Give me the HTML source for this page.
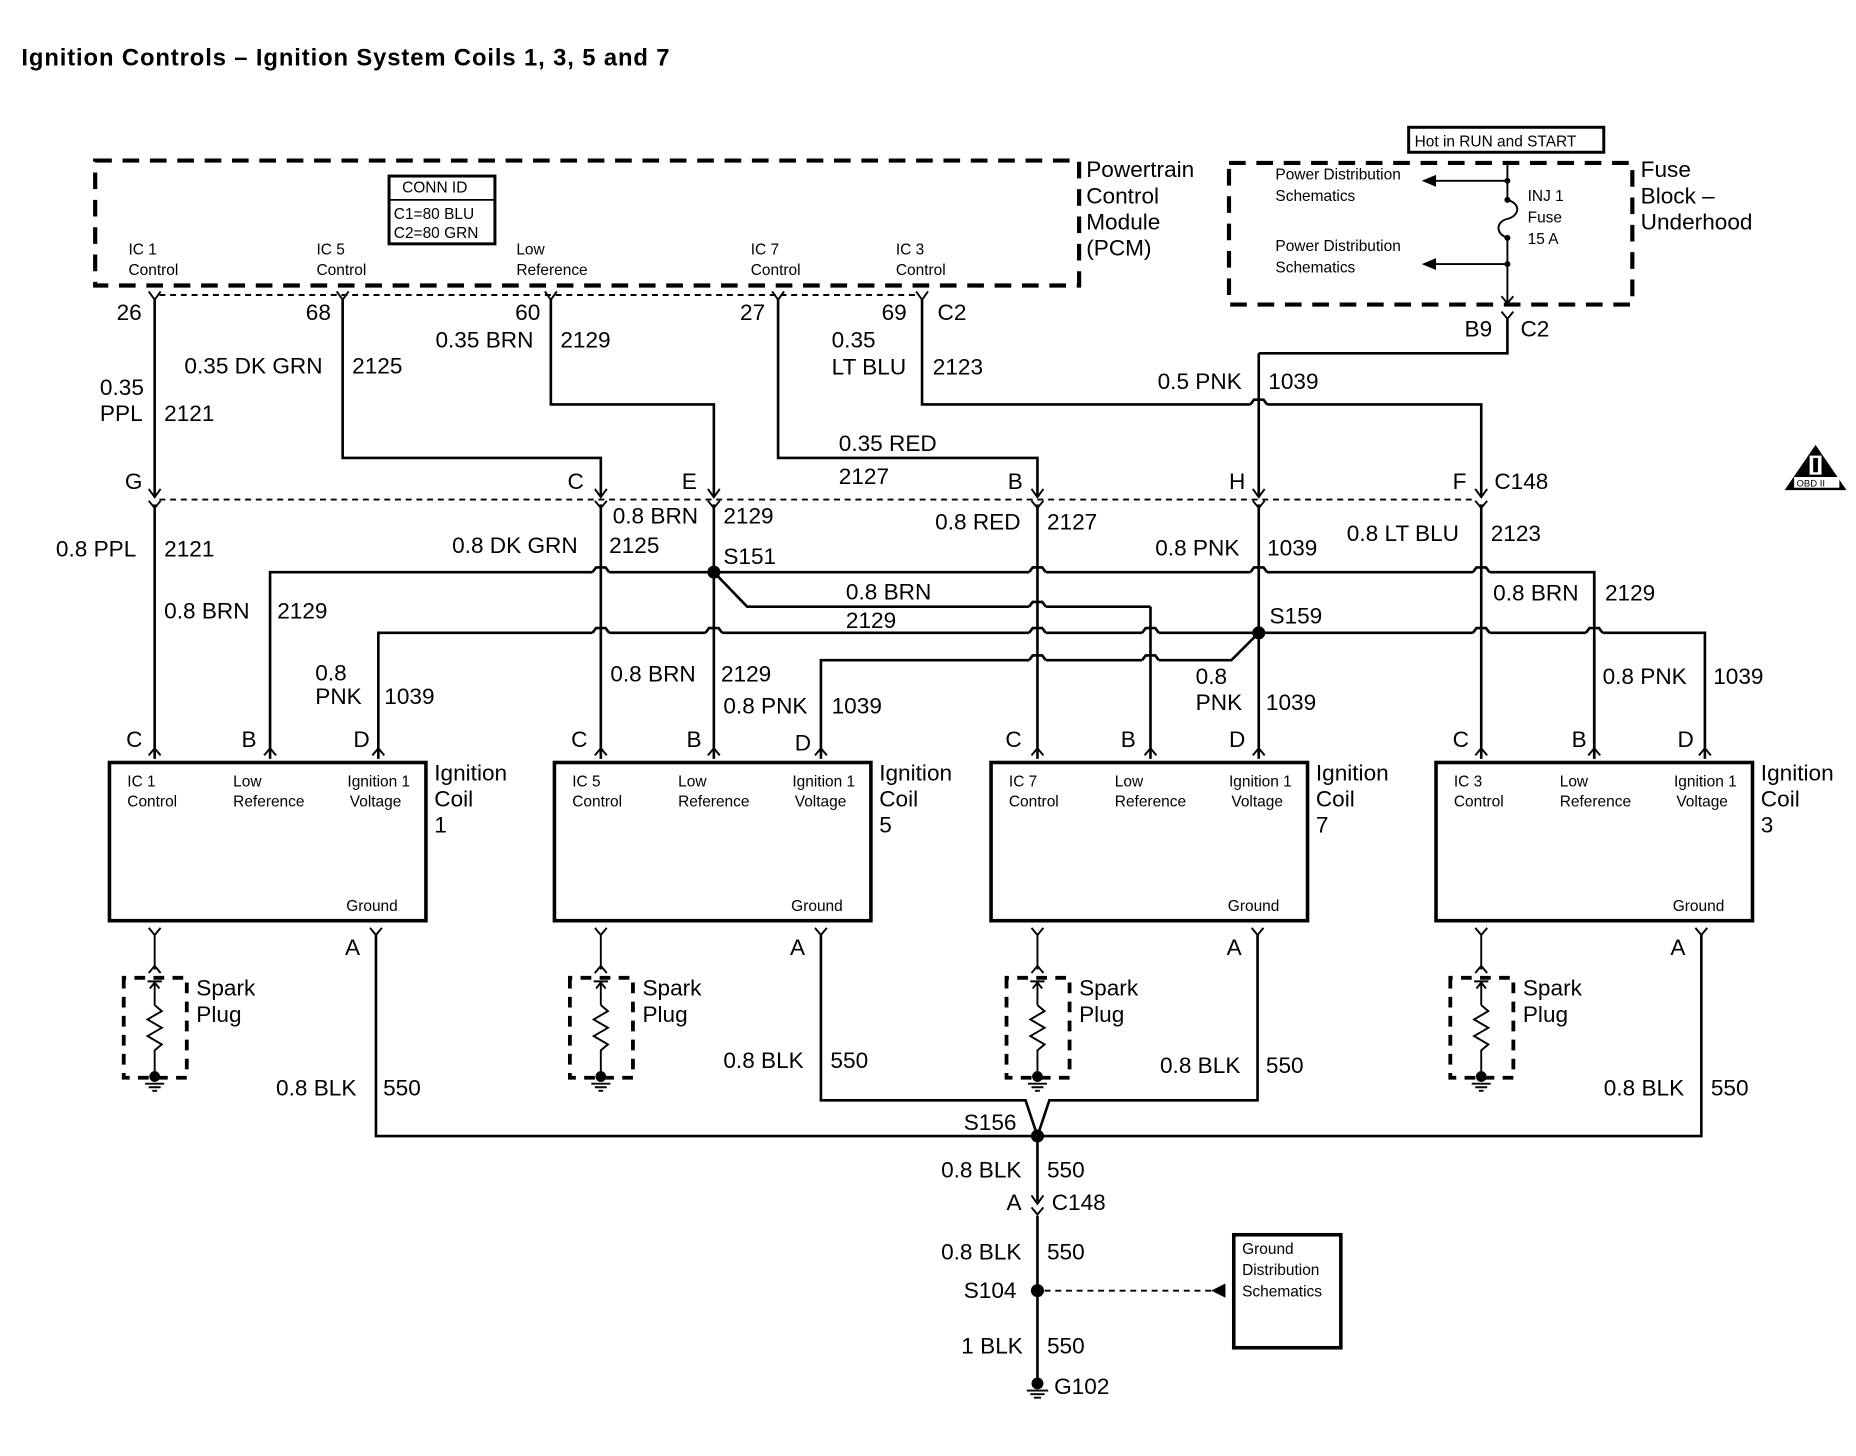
<!DOCTYPE html>
<html><head><meta charset="utf-8">
<style>
html,body{margin:0;padding:0;background:#fff;}
svg{display:block;}
.w{stroke:#000;stroke-width:2.2;fill:none;stroke-linejoin:miter;}
.t{stroke:#000;stroke-width:1.6;fill:none;}
.d{stroke:#000;stroke-width:1.6;fill:none;stroke-dasharray:5 4;}
.bx{stroke:#000;stroke-width:3.5;fill:none;stroke-dasharray:14 9;}
text{font-family:"Liberation Sans",Arial,sans-serif;fill:#000;}
.L{font-size:19px;}
.S{font-size:13px;}
</style></head><body>
<svg width="1856" height="1456" viewBox="0 0 1560 1224" preserveAspectRatio="none" xmlns="http://www.w3.org/2000/svg">
<rect width="1560" height="1224" fill="#fff"/>
<text x="18" y="55" style="font-size:20px;font-weight:bold;letter-spacing:0.75px">Ignition Controls – Ignition System Coils 1, 3, 5 and 7</text>

<!-- PCM -->
<rect x="80" y="135" width="827" height="105" class="bx"/>
<text class="L" x="913" y="149">Powertrain</text>
<text class="L" x="913" y="171">Control</text>
<text class="L" x="913" y="193">Module</text>
<text class="L" x="913" y="215">(PCM)</text>
<rect x="327" y="148" width="89" height="57" fill="none" stroke="#000" stroke-width="2.5"/>
<line x1="327" y1="168" x2="416" y2="168" stroke="#000" stroke-width="1.5"/>
<text class="S" x="338" y="162">CONN ID</text>
<text class="S" x="331" y="184">C1=80 BLU</text>
<text class="S" x="331" y="200">C2=80 GRN</text>
<text class="S" x="108" y="214">IC 1</text><text class="S" x="108" y="231">Control</text>
<text class="S" x="266" y="214">IC 5</text><text class="S" x="266" y="231">Control</text>
<text class="S" x="434" y="214">Low</text><text class="S" x="434" y="231">Reference</text>
<text class="S" x="631" y="214">IC 7</text><text class="S" x="631" y="231">Control</text>
<text class="S" x="753" y="214">IC 3</text><text class="S" x="753" y="231">Control</text>

<!-- Fuse block -->
<rect x="1184" y="107" width="164" height="21" fill="none" stroke="#000" stroke-width="2.5"/>
<text class="S" x="1189" y="123">Hot in RUN and START</text>
<rect x="1033" y="137" width="339" height="119" class="bx"/>
<text class="L" x="1379" y="149">Fuse</text>
<text class="L" x="1379" y="171">Block –</text>
<text class="L" x="1379" y="193">Underhood</text>
<text class="S" x="1072" y="151">Power Distribution</text>
<text class="S" x="1072" y="169">Schematics</text>
<text class="S" x="1072" y="211">Power Distribution</text>
<text class="S" x="1072" y="229">Schematics</text>
<text class="S" x="1284" y="169">INJ 1</text>
<text class="S" x="1284" y="187">Fuse</text>
<text class="S" x="1284" y="205">15 A</text>
<path class="t" d="M1267 138 V168 C1280 172 1276 182 1267 184 C1258 186 1256 196 1267 200 V256"/>
<circle cx="1267" cy="152" r="2.5"/><circle cx="1267" cy="168" r="2.5"/><circle cx="1267" cy="200" r="2.5"/><circle cx="1267" cy="222" r="2.5"/>
<path class="t" d="M1267 152 H1205"/><path d="M1195 152 L1207 147 L1207 157 Z"/>
<path class="t" d="M1267 222 H1205"/><path d="M1195 222 L1207 217 L1207 227 Z"/>
<path class="t" d="M1262 249 L1267 255 L1272 249"/>
<path class="t" d="M1262 262 L1267 268 L1272 262"/>
<text class="L" x="1231" y="283">B9</text><text class="L" x="1278" y="283">C2</text>

<!-- OBD II -->
<path d="M1526 374 L1552 412 L1500 412 Z" fill="#000"/>
<rect x="1508" y="401" width="38" height="9" fill="#fff"/>
<text x="1510" y="409" style="font-size:8px">OBD II</text>
<rect x="1521" y="383" width="10" height="16" fill="#fff"/><rect x="1524" y="385" width="4" height="12" fill="#000"/>

<!-- dashed connector lines -->
<path class="d" d="M134 248 H771"/>
<path class="d" d="M134 420 H1241"/>

<!-- upper wires -->
<path class="w" d="M130 252 V417"/>
<path class="w" d="M288 252 V385 H505 V417"/>
<path class="w" d="M463 252 V340 H600 V417"/>
<path class="w" d="M654 252 V385 H872 V417"/>
<path class="w" d="M775 252 V340 H1245 V417"/>
<path class="w" d="M1267 268 V297 H1058"/>

<!-- lower buses -->
<path class="w" d="M227 638 V481 H1340 V638"/>
<path class="w" d="M600 481 L628 510 H967"/>
<path class="w" d="M318 638 V532 H1433 V638"/>
<path class="w" d="M1058 532 L1035 555 H690 V638"/>

<!-- hops -->
<g fill="#fff" stroke="none">
<rect x="1051" y="337" width="14" height="6"/>
<rect x="498" y="478" width="14" height="6"/><rect x="865" y="478" width="14" height="6"/><rect x="1051" y="478" width="14" height="6"/><rect x="1238" y="478" width="14" height="6"/>
<rect x="865" y="507" width="14" height="6"/>
<rect x="498" y="529" width="14" height="6"/><rect x="593" y="529" width="14" height="6"/><rect x="865" y="529" width="14" height="6"/><rect x="960" y="529" width="14" height="6"/><rect x="1238" y="529" width="14" height="6"/><rect x="1333" y="529" width="14" height="6"/>
<rect x="865" y="552" width="14" height="6"/><rect x="960" y="552" width="14" height="6"/>
</g>
<g class="w">
<path d="M1051 340 L1054 336 H1062 L1065 340"/>
<path d="M498 481 L501 477 H509 L512 481"/><path d="M865 481 L868 477 H876 L879 481"/><path d="M1051 481 L1054 477 H1062 L1065 481"/><path d="M1238 481 L1241 477 H1249 L1252 481"/>
<path d="M865 510 L868 506 H876 L879 510"/>
<path d="M498 532 L501 528 H509 L512 532"/><path d="M593 532 L596 528 H604 L607 532"/><path d="M865 532 L868 528 H876 L879 532"/><path d="M960 532 L963 528 H971 L974 532"/><path d="M1238 532 L1241 528 H1249 L1252 532"/><path d="M1333 532 L1336 528 H1344 L1347 532"/>
<path d="M865 555 L868 551 H876 L879 555"/><path d="M960 555 L963 551 H971 L974 555"/>
</g>

<!-- verticals on top -->
<path class="w" d="M130 424 V638"/>
<path class="w" d="M505 424 V638"/>
<path class="w" d="M600 424 V638"/>
<path class="w" d="M872 424 V638"/>
<path class="w" d="M967 510 V638"/>
<path class="w" d="M1058 297 V417 M1058 424 V638"/>
<path class="w" d="M1245 424 V638"/>
<path class="w" d="M1340 481 V638"/>
<circle cx="600" cy="481" r="5.5"/>
<circle cx="1058" cy="532" r="5.5"/>

<!-- pin symbols -->
<g class="t">
<path d="M125 245 L130 252 L135 245 M283 245 L288 252 L293 245 M458 245 L463 252 L468 245 M649 245 L654 252 L659 245 M770 245 L775 252 L780 245"/>
<path d="M125 411 L130 418 L135 411 M500 411 L505 418 L510 411 M595 411 L600 418 L605 411 M867 411 L872 418 L877 411 M1053 411 L1058 418 L1063 411 M1240 411 L1245 418 L1250 411"/>
<path d="M125 421 L130 427 L135 421 M500 421 L505 427 L510 421 M595 421 L600 427 L605 421 M867 421 L872 427 L877 421 M1053 421 L1058 427 L1063 421 M1240 421 L1245 427 L1250 421"/>
<path d="M125 635 L130 629 L135 635 M222 635 L227 629 L232 635 M313 635 L318 629 L323 635"/>
<path d="M500 635 L505 629 L510 635 M595 635 L600 629 L605 635 M685 635 L690 629 L695 635"/>
<path d="M867 635 L872 629 L877 635 M962 635 L967 629 L972 635 M1053 635 L1058 629 L1063 635"/>
<path d="M1240 635 L1245 629 L1250 635 M1335 635 L1340 629 L1345 635 M1428 635 L1433 629 L1438 635"/>
</g>

<!-- labels upper -->
<text class="L" x="98" y="269">26</text>
<text class="L" x="257" y="269">68</text>
<text class="L" x="433" y="269">60</text>
<text class="L" x="622" y="269">27</text>
<text class="L" x="741" y="269">69</text>
<text class="L" x="788" y="269">C2</text>
<text class="L" x="84" y="332">0.35</text>
<text class="L" x="84" y="354">PPL</text><text class="L" x="138" y="354">2121</text>
<text class="L" x="155" y="314">0.35 DK GRN</text><text class="L" x="296" y="314">2125</text>
<text class="L" x="366" y="292">0.35 BRN</text><text class="L" x="471" y="292">2129</text>
<text class="L" x="699" y="292">0.35</text>
<text class="L" x="699" y="315">LT BLU</text><text class="L" x="784" y="315">2123</text>
<text class="L" x="973" y="327">0.5 PNK</text><text class="L" x="1066" y="327">1039</text>
<text class="L" x="705" y="379">0.35 RED</text>
<text class="L" x="705" y="407">2127</text>
<text class="L" x="105" y="411">G</text>
<text class="L" x="477" y="411">C</text>
<text class="L" x="573" y="411">E</text>
<text class="L" x="847" y="411">B</text>
<text class="L" x="1033" y="411">H</text>
<text class="L" x="1221" y="411">F</text>
<text class="L" x="1256" y="411">C148</text>

<!-- labels middle -->
<text class="L" x="47" y="468">0.8 PPL</text><text class="L" x="138" y="468">2121</text>
<text class="L" x="380" y="465">0.8 DK GRN</text><text class="L" x="512" y="465">2125</text>
<text class="L" x="515" y="440">0.8 BRN</text><text class="L" x="608" y="440">2129</text>
<text class="L" x="608" y="474">S151</text>
<text class="L" x="786" y="445">0.8 RED</text><text class="L" x="880" y="445">2127</text>
<text class="L" x="971" y="467">0.8 PNK</text><text class="L" x="1065" y="467">1039</text>
<text class="L" x="1132" y="455">0.8 LT BLU</text><text class="L" x="1253" y="455">2123</text>
<text class="L" x="711" y="504">0.8 BRN</text>
<text class="L" x="711" y="528">2129</text>
<text class="L" x="1067" y="524">S159</text>
<text class="L" x="138" y="520">0.8 BRN</text><text class="L" x="233" y="520">2129</text>
<text class="L" x="1255" y="505">0.8 BRN</text><text class="L" x="1349" y="505">2129</text>
<text class="L" x="513" y="573">0.8 BRN</text><text class="L" x="606" y="573">2129</text>
<text class="L" x="265" y="572">0.8</text>
<text class="L" x="265" y="592">PNK</text><text class="L" x="323" y="592">1039</text>
<text class="L" x="608" y="600">0.8 PNK</text><text class="L" x="699" y="600">1039</text>
<text class="L" x="1005" y="575">0.8</text>
<text class="L" x="1005" y="597">PNK</text><text class="L" x="1064" y="597">1039</text>
<text class="L" x="1347" y="575">0.8 PNK</text><text class="L" x="1440" y="575">1039</text>

<!-- coils -->
<rect x="92" y="641" width="266" height="133" fill="none" stroke="#000" stroke-width="3"/>
<rect x="466" y="641" width="266" height="133" fill="none" stroke="#000" stroke-width="3"/>
<rect x="833" y="641" width="266" height="133" fill="none" stroke="#000" stroke-width="3"/>
<rect x="1207" y="641" width="266" height="133" fill="none" stroke="#000" stroke-width="3"/>
<text class="L" x="106" y="628">C</text><text class="L" x="203" y="628">B</text><text class="L" x="297" y="628">D</text>
<text class="L" x="480" y="628">C</text><text class="L" x="577" y="628">B</text><text class="L" x="668" y="631">D</text>
<text class="L" x="845" y="628">C</text><text class="L" x="942" y="628">B</text><text class="L" x="1033" y="628">D</text>
<text class="L" x="1221" y="628">C</text><text class="L" x="1321" y="628">B</text><text class="L" x="1410" y="628">D</text>

<text class="S" x="107" y="661">IC 1</text><text class="S" x="107" y="678">Control</text>
<text class="S" x="196" y="661">Low</text><text class="S" x="196" y="678">Reference</text>
<text class="S" x="292" y="661">Ignition 1</text><text class="S" x="294" y="678">Voltage</text>
<text class="S" x="291" y="766">Ground</text>
<text class="L" x="365" y="656">Ignition</text><text class="L" x="365" y="678">Coil</text><text class="L" x="365" y="700">1</text>

<text class="S" x="481" y="661">IC 5</text><text class="S" x="481" y="678">Control</text>
<text class="S" x="570" y="661">Low</text><text class="S" x="570" y="678">Reference</text>
<text class="S" x="666" y="661">Ignition 1</text><text class="S" x="668" y="678">Voltage</text>
<text class="S" x="665" y="766">Ground</text>
<text class="L" x="739" y="656">Ignition</text><text class="L" x="739" y="678">Coil</text><text class="L" x="739" y="700">5</text>

<text class="S" x="848" y="661">IC 7</text><text class="S" x="848" y="678">Control</text>
<text class="S" x="937" y="661">Low</text><text class="S" x="937" y="678">Reference</text>
<text class="S" x="1033" y="661">Ignition 1</text><text class="S" x="1035" y="678">Voltage</text>
<text class="S" x="1032" y="766">Ground</text>
<text class="L" x="1106" y="656">Ignition</text><text class="L" x="1106" y="678">Coil</text><text class="L" x="1106" y="700">7</text>

<text class="S" x="1222" y="661">IC 3</text><text class="S" x="1222" y="678">Control</text>
<text class="S" x="1311" y="661">Low</text><text class="S" x="1311" y="678">Reference</text>
<text class="S" x="1407" y="661">Ignition 1</text><text class="S" x="1409" y="678">Voltage</text>
<text class="S" x="1406" y="766">Ground</text>
<text class="L" x="1480" y="656">Ignition</text><text class="L" x="1480" y="678">Coil</text><text class="L" x="1480" y="700">3</text>

<!-- spark plugs -->
<g>
<path class="t" d="M125 780 L130 786 L135 780 M130 786 V815 M125 818 L130 812 L135 818"/>
<path d="M104 822 V906 H157 V822 Z" fill="none" stroke="#000" stroke-dasharray="9 7" stroke-width="3.2"/>
<path class="t" d="M124 825 H136 M130 826 V845 M126 831 L130 826 L134 831 M130 845 L136 850 L124 857 L136 864 L124 871 L136 878 L130 883 V905"/>
<circle cx="130" cy="905" r="4.5"/><path class="t" d="M122 911 H138 M125 914 H135 M128 917 H132"/>
<text class="L" x="165" y="837">Spark</text><text class="L" x="165" y="859">Plug</text>
</g>
<g transform="translate(375,0)">
<path class="t" d="M125 780 L130 786 L135 780 M130 786 V815 M125 818 L130 812 L135 818"/>
<path d="M104 822 V906 H157 V822 Z" fill="none" stroke="#000" stroke-dasharray="9 7" stroke-width="3.2"/>
<path class="t" d="M124 825 H136 M130 826 V845 M126 831 L130 826 L134 831 M130 845 L136 850 L124 857 L136 864 L124 871 L136 878 L130 883 V905"/>
<circle cx="130" cy="905" r="4.5"/><path class="t" d="M122 911 H138 M125 914 H135 M128 917 H132"/>
<text class="L" x="165" y="837">Spark</text><text class="L" x="165" y="859">Plug</text>
</g>
<g transform="translate(742,0)">
<path class="t" d="M125 780 L130 786 L135 780 M130 786 V815 M125 818 L130 812 L135 818"/>
<path d="M104 822 V906 H157 V822 Z" fill="none" stroke="#000" stroke-dasharray="9 7" stroke-width="3.2"/>
<path class="t" d="M124 825 H136 M130 826 V845 M126 831 L130 826 L134 831 M130 845 L136 850 L124 857 L136 864 L124 871 L136 878 L130 883 V905"/>
<circle cx="130" cy="905" r="4.5"/><path class="t" d="M122 911 H138 M125 914 H135 M128 917 H132"/>
<text class="L" x="165" y="837">Spark</text><text class="L" x="165" y="859">Plug</text>
</g>
<g transform="translate(1115,0)">
<path class="t" d="M125 780 L130 786 L135 780 M130 786 V815 M125 818 L130 812 L135 818"/>
<path d="M104 822 V906 H157 V822 Z" fill="none" stroke="#000" stroke-dasharray="9 7" stroke-width="3.2"/>
<path class="t" d="M124 825 H136 M130 826 V845 M126 831 L130 826 L134 831 M130 845 L136 850 L124 857 L136 864 L124 871 L136 878 L130 883 V905"/>
<circle cx="130" cy="905" r="4.5"/><path class="t" d="M122 911 H138 M125 914 H135 M128 917 H132"/>
<text class="L" x="165" y="837">Spark</text><text class="L" x="165" y="859">Plug</text>
</g>

<!-- ground wires -->
<path class="t" d="M311 780 L316 786 L321 780 M685 780 L690 786 L695 780 M1052 780 L1057 786 L1062 780 M1425 780 L1430 786 L1435 780"/>
<path class="w" d="M316 786 V955 H1430 V786"/>
<path class="w" d="M690 786 V925 H862 L872 955"/>
<path class="w" d="M1057 786 V925 H882 L872 955"/>
<path class="w" d="M872 955 V1010 M872 1022 V1160"/>
<path class="t" d="M867 1005 L872 1012 L877 1005 M867 1015 L872 1021 L877 1015"/>
<text class="L" x="290" y="803">A</text>
<text class="L" x="664" y="803">A</text>
<text class="L" x="1031" y="803">A</text>
<text class="L" x="1404" y="803">A</text>
<text class="L" x="232" y="921">0.8 BLK</text><text class="L" x="322" y="921">550</text>
<text class="L" x="608" y="898">0.8 BLK</text><text class="L" x="698" y="898">550</text>
<text class="L" x="975" y="902">0.8 BLK</text><text class="L" x="1064" y="902">550</text>
<text class="L" x="1348" y="921">0.8 BLK</text><text class="L" x="1438" y="921">550</text>
<circle cx="872" cy="955" r="5.5"/>
<text class="L" x="810" y="950">S156</text>
<text class="L" x="791" y="990">0.8 BLK</text><text class="L" x="880" y="990">550</text>
<text class="L" x="846" y="1017">A</text><text class="L" x="884" y="1017">C148</text>
<text class="L" x="791" y="1059">0.8 BLK</text><text class="L" x="880" y="1059">550</text>
<circle cx="872" cy="1085" r="5.5"/>
<text class="L" x="810" y="1091">S104</text>
<path class="d" d="M878 1085 H1020" stroke-dasharray="9 9" stroke-width="2"/>
<path d="M1018 1085 L1030 1079 L1030 1091 Z"/>
<rect x="1037" y="1038" width="90" height="95" fill="none" stroke="#000" stroke-width="3"/>
<text class="S" x="1044" y="1054">Ground</text>
<text class="S" x="1044" y="1072">Distribution</text>
<text class="S" x="1044" y="1090">Schematics</text>
<text class="L" x="808" y="1138">1 BLK</text><text class="L" x="880" y="1138">550</text>
<circle cx="872" cy="1163" r="5"/>
<path class="t" d="M863 1169 H881 M866 1172 H878 M869 1175 H875"/>
<text class="L" x="886" y="1172">G102</text>
</svg>
</body></html>
